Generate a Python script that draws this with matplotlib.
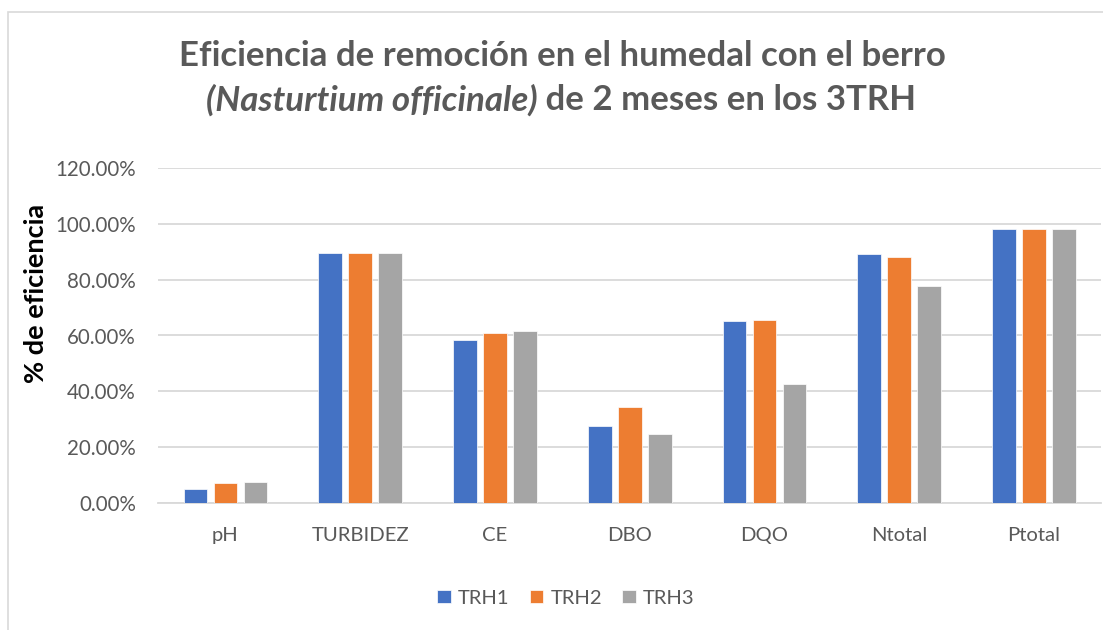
import matplotlib
matplotlib.use("Agg")
import matplotlib.pyplot as plt
from matplotlib.patches import Rectangle
import numpy as np

categories = ["pH", "TURBIDEZ", "CE", "DBO", "DQO", "Ntotal", "Ptotal"]
series_names = ["TRH1", "TRH2", "TRH3"]
trh1 = [0.050, 0.895, 0.584, 0.278, 0.651, 0.892, 0.982]
trh2 = [0.0716, 0.895, 0.609, 0.346, 0.657, 0.880, 0.981]
trh3 = [0.076, 0.896, 0.616, 0.248, 0.427, 0.777, 0.980]
yticks = [0, 0.2, 0.4, 0.6, 0.8, 1.0, 1.2]
ytick_labels = ["0.00%", "20.00%", "40.00%", "60.00%", "80.00%", "100.00%", "120.00%"]
colors = ["#4472C4", "#ED7D31", "#A5A5A5"]

W, H = 1103, 630
fig = plt.figure(figsize=(W / 100, H / 100), dpi=100)
plt.rcParams['font.family'] = ['Lato', 'DejaVu Sans']
txtc = "#595959"

# frame (extends beyond right/bottom edges, as in the reference crop)
fig.patches.append(Rectangle((8 / W, -10 / H), (W + 20) / W, (H - 12 + 10) / H,
                             transform=fig.transFigure, fill=False,
                             edgecolor="#D9D9D9", linewidth=1.2))

ax = fig.add_axes([158 / W, 1 - 503.3 / H, (1101.4 - 158) / W, (503.3 - 167.7) / H])
ax.set_facecolor("none")
x = np.arange(len(categories))
bw = 0.176
step = 0.2226
for i, (vals, c, n) in enumerate(zip([trh1, trh2, trh3], colors, series_names)):
    ax.bar(x + (i - 1) * step, vals, width=bw, color=c, label=n, zorder=3,
           edgecolor="white", linewidth=0.5)

ax.set_xlim(-0.5, len(categories) - 0.5)
ax.set_ylim(0, 1.2)
ax.set_yticks(yticks)
ax.set_yticklabels(ytick_labels, fontsize=14.8, color=txtc)
ax.set_xticks(x)
ax.set_xticklabels(categories, fontsize=14.6, color=txtc)
ax.tick_params(axis='both', length=0)
ax.tick_params(axis='y', pad=16)
ax.tick_params(axis='x', pad=17)
ax.grid(axis='y', color="#D9D9D9", linewidth=1.3, zorder=0)
for s in ["top", "right", "left"]:
    ax.spines[s].set_visible(False)
ax.spines["bottom"].set_color("#D9D9D9")
ax.spines["bottom"].set_linewidth(1.3)

fig.text(36 / W, 1 - 293 / H, "% de eficiencia", rotation=90, fontsize=19.5, fontweight='bold',
         color="black", ha='center', va='center')

leg = fig.legend(loc='center', bbox_to_anchor=(566 / W, 1 - 598 / H), ncol=3, frameon=False,
                 fontsize=14.5, handlelength=0.67, handleheight=0.67, columnspacing=1.0,
                 handletextpad=0.36)
for t in leg.get_texts():
    t.set_color(txtc)

# title
r = fig.canvas.get_renderer()
fs = 21
t1 = fig.text(562 / W, 1 - 56 / H, "Eficiencia de remoción en el humedal con el berro",
              fontsize=fs, fontweight='bold', color=txtc, ha='center', va='center')
bb = t1.get_window_extent(r)
fs = fs * 768 / bb.width
t1.set_fontsize(fs)
ta = fig.text(0, 1 - 100 / H, "(Nasturtium officinale)", fontsize=fs, fontweight='bold',
              fontstyle='italic', color=txtc, ha='left', va='center')
tb = fig.text(0, 1 - 100 / H, " de 2 meses en los 3TRH", fontsize=fs, fontweight='bold',
              color=txtc, ha='left', va='center')
wa = ta.get_window_extent(r).width
wb = tb.get_window_extent(r).width
x0 = 561 - (wa + wb) / 2
ta.set_x(x0 / W)
tb.set_x((x0 + wa) / W)

fig.savefig("out.png", dpi=100)
